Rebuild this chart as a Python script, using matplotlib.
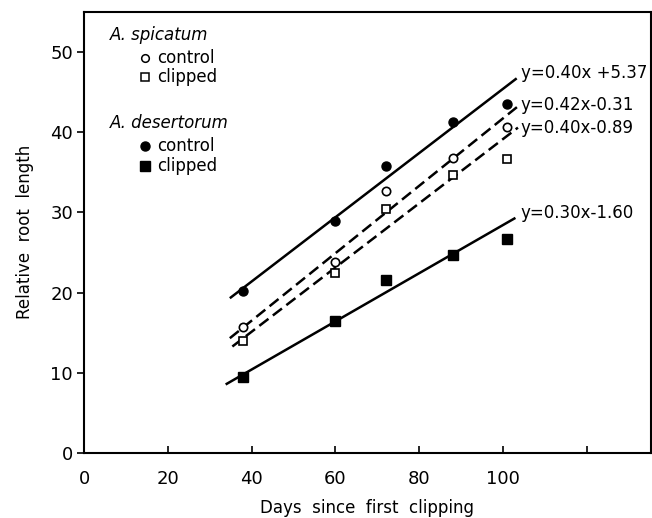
import matplotlib
matplotlib.use("Agg")
import matplotlib.pyplot as plt
import numpy as np

plt.rcParams['font.family'] = ['DejaVu Sans']

days = [38, 60, 72, 88, 101]
spic_control = [15.7, 23.8, 32.6, 36.7, 40.6]
spic_clipped = [14.0, 22.4, 30.4, 34.6, 36.6]
des_control = [20.2, 28.9, 35.8, 41.2, 43.5]
des_clipped = [9.5, 16.5, 21.6, 24.7, 26.7]

# regression lines: (slope, intercept, x_start, x_end, label, style, label_y)
fits = [
    (0.40, 5.37, 34.8, 103.3, "y=0.40x +5.37", "solid", 47.4),
    (0.42, -0.31, 34.8, 104.0, "y=0.42x-0.31", "dashed", 43.4),
    (0.40, -0.89, 35.4, 103.6, "y=0.40x-0.89", "dashed", 40.5),
    (0.30, -1.60, 33.8, 103.0, "y=0.30x-1.60", "solid", 29.9),
]

xticks = [0, 20, 40, 60, 80, 100, 120]
xticklabels = ["0", "20", "40", "60", "80", "100", ""]
yticks = [0, 10, 20, 30, 40, 50]

fig = plt.figure(figsize=(6.52, 5.18), dpi=100)
ax = fig.add_axes([0.129, 0.1255, 0.869, 0.852])

for m, b, x0, x1, lab, style, ly in fits:
    xs = np.array([x0, x1])
    if style == "dashed":
        ax.plot(xs, m * xs + b, color='black', lw=1.8,
                linestyle=(0, (4.6, 2.2)), dash_capstyle='butt')
    else:
        ax.plot(xs, m * xs + b, color='black', lw=1.8, solid_capstyle='butt')
    ax.text(104.3, ly, lab, fontsize=12, ha='left', va='center')

ax.plot(days, des_control, 'o', color='black', ms=6.5, zorder=5)
ax.plot(days, spic_control, 'o', mfc='white', mec='black', mew=1.2, ms=6, zorder=5)
ax.plot(days, spic_clipped, 's', mfc='white', mec='black', mew=1.2, ms=5.5, zorder=5)
ax.plot(days, des_clipped, 's', color='black', ms=6.5, zorder=5)

# legend as text
ax.text(6.2, 52.1, "A. spicatum", fontsize=12, style='italic', va='center')
ax.plot([14.6], [49.25], 'o', mfc='white', mec='black', mew=1.1, ms=5.5)
ax.text(17.5, 49.25, "control", fontsize=12, va='center')
ax.plot([14.6], [46.9], 's', mfc='white', mec='black', mew=1.1, ms=5.5)
ax.text(17.5, 46.9, "clipped", fontsize=12, va='center')
ax.text(6.2, 41.1, "A. desertorum", fontsize=12, style='italic', va='center')
ax.plot([14.6], [38.2], 'o', color='black', ms=6.5)
ax.text(17.5, 38.2, "control", fontsize=12, va='center')
ax.plot([14.6], [35.8], 's', color='black', ms=6.5)
ax.text(17.5, 35.8, "clipped", fontsize=12, va='center')

ax.set_xlim(0, 135.3)
ax.set_ylim(0, 55)
ax.set_xticks(xticks)
ax.set_xticklabels(xticklabels)
ax.set_yticks(yticks)
ax.tick_params(axis='x', direction='in', length=5, width=1.2, labelsize=13, pad=12)
ax.tick_params(axis='y', direction='out', length=5, width=1.2, labelsize=13, pad=3)
for s in ax.spines.values():
    s.set_linewidth(1.5)

ax.set_xlabel("Days  since  first  clipping", fontsize=12, labelpad=8)
ax.set_ylabel("Relative  root  length", fontsize=12, labelpad=12)

fig.savefig("out.png", dpi=100)
